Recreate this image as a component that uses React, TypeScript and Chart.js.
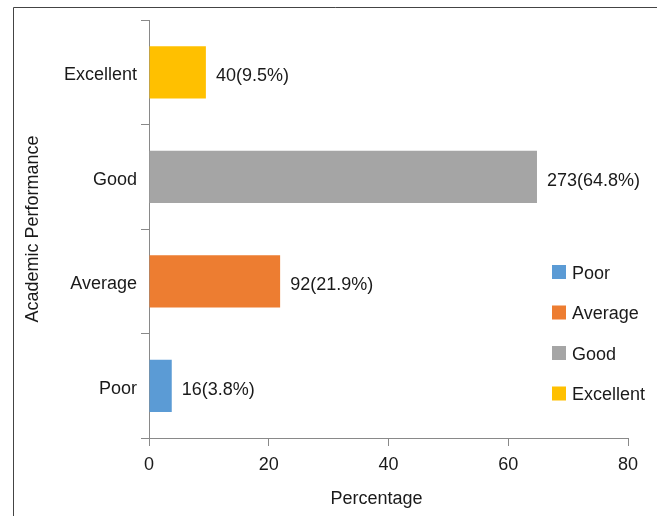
import React, { useEffect, useRef } from "react";
import { Chart, registerables } from "chart.js";

Chart.register(...registerables);

const categories = ["Poor", "Average", "Good", "Excellent"];
const percentages = [3.8, 21.9, 64.8, 9.5];
const counts = [16, 92, 273, 40];
const colors = ["#5B9BD5", "#ED7D31", "#A5A5A5", "#FFC000"];
const xTicks = [0, 20, 40, 60, 80];
const xTitle = "Percentage";
const yTitle = "Academic Performance";

const FONT = "'Liberation Sans', Arial, sans-serif";
const TEXT = "#1a1a1a";
const AXIS = "#898989";

export default function App() {
  const ref = useRef<HTMLCanvasElement | null>(null);
  useEffect(() => {
    const canvas = ref.current!;
    const framePlugin = {
      id: "frame",
      beforeDraw(chart: any) {
        const ctx = chart.ctx;
        ctx.save();
        ctx.fillStyle = "#ffffff";
        ctx.fillRect(0, 0, chart.width, chart.height);
        ctx.strokeStyle = "#444444";
        ctx.lineWidth = 1;
        ctx.beginPath();
        ctx.moveTo(13.5, chart.height);
        ctx.lineTo(13.5, 7.5);
        ctx.lineTo(chart.width, 7.5);
        ctx.stroke();
        ctx.restore();
      },
    };
    const labelPlugin = {
      id: "labels",
      afterDatasetsDraw(chart: any) {
        const ctx = chart.ctx;
        const meta = chart.getDatasetMeta(0);
        ctx.save();
        ctx.font = `18px ${FONT}`;
        ctx.fillStyle = TEXT;
        ctx.textBaseline = "middle";
        ctx.textAlign = "left";
        meta.data.forEach((bar: any, i: number) => {
          ctx.fillText(`${counts[i]}(${percentages[i]}%)`, bar.x + 10, bar.y + 4);
        });
        // x title
        const area = chart.chartArea;
        ctx.textAlign = "center";
        ctx.fillText(xTitle, (area.left + area.right) / 2 - 12, 499);
        // legend
        ctx.textAlign = "left";
        const lx = 552;
        const ly0 = 272;
        const step = 40.5;
        categories.forEach((c, i) => {
          const y = ly0 + i * step;
          ctx.fillStyle = colors[i];
          ctx.fillRect(lx, y - 7, 14, 14);
          ctx.fillStyle = TEXT;
          ctx.fillText(c, lx + 20, y + 2);
        });
        ctx.restore();
      },
    };
    const chart = new Chart(canvas, {
      type: "bar",
      data: {
        labels: categories,
        datasets: [
          {
            data: percentages,
            backgroundColor: colors,
            barPercentage: 0.5,
            categoryPercentage: 1,
          },
        ],
      },
      options: {
        indexAxis: "y",
        responsive: false,
        animation: false,
        layout: { padding: { top: 20, right: 29, left: 0, bottom: 0 } },
        plugins: {
          legend: { display: false },
          tooltip: { enabled: false },
        },
        scales: {
          x: {
            min: 0,
            max: 80,
            afterBuildTicks: (s: any) => {
              s.ticks = xTicks.map((v) => ({ value: v }));
            },
            afterFit: (s: any) => {
              s.height = 78;
            },
            grid: {
              drawOnChartArea: false,
              drawTicks: true,
              tickLength: 8,
              color: AXIS,
            },
            border: { color: AXIS, width: 1 },
            ticks: {
              font: { family: FONT, size: 18 },
              color: TEXT,
              padding: 8,
              maxRotation: 0,
            },
          },
          y: {
            reverse: true,
            offset: true,
            afterFit: (s: any) => {
              s.width = 149;
            },
            grid: {
              offset: true,
              drawOnChartArea: false,
              drawTicks: true,
              tickLength: 8,
              color: AXIS,
            },
            border: { color: AXIS, width: 1 },
            ticks: {
              font: { family: FONT, size: 18 },
              color: TEXT,
              padding: 4,
              labelOffset: 3,
            },
            title: {
              display: true,
              text: yTitle,
              font: { family: FONT, size: 18 },
              color: TEXT,
              padding: { top: 22, bottom: 0 },
            },
          },
        },
      },
      plugins: [framePlugin, labelPlugin],
    } as any);
    return () => chart.destroy();
  }, []);
  return (
    <div style={{ position: "fixed", left: 0, top: 0, width: 657, height: 516 }}>
      <canvas ref={ref} width={657} height={516} style={{ display: "block" }} />
    </div>
  );
}
